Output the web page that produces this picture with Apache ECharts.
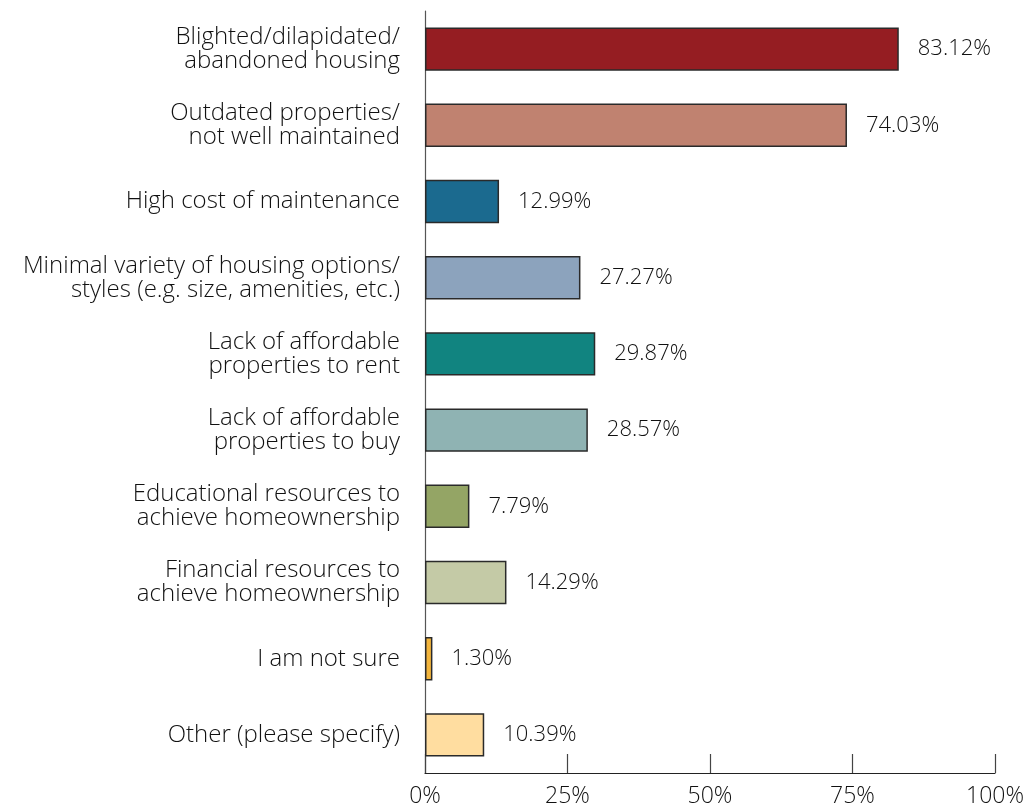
<!DOCTYPE html>
<html>
<head>
<meta charset="utf-8">
<script src="https://cdn.jsdelivr.net/npm/echarts@6/dist/echarts.min.js"></script>
<style>
  html, body { margin: 0; padding: 0; background: #fff; }
  #chart { width: 1031px; height: 810px; }
</style>
</head>
<body>
<div id="chart"></div>
<script>
// Survey responses: housing challenges (share of respondents, %)
const categories = [
  'Blighted/dilapidated/\nabandoned housing',
  'Outdated properties/\nnot well maintained',
  'High cost of maintenance',
  'Minimal variety of housing options/\nstyles (e.g. size, amenities, etc.)',
  'Lack of affordable\nproperties to rent',
  'Lack of affordable\nproperties to buy',
  'Educational resources to\nachieve homeownership',
  'Financial resources to\nachieve homeownership',
  'I am not sure',
  'Other (please specify)'
];
const values = [83.12, 74.03, 12.99, 27.27, 29.87, 28.57, 7.79, 14.29, 1.30, 10.39];
const barColors = ['#951d22', '#c08270', '#1b6a8f', '#8ca3bd', '#118480',
                   '#8fb3b3', '#94a565', '#c4caa6', '#f3b53c', '#ffdda0'];
const xTicks = [0, 25, 50, 75, 100];

const FONT = '"Open Sans", "Noto Sans", sans-serif';
const chart = echarts.init(document.getElementById('chart'));

chart.setOption({
  animation: false,
  backgroundColor: '#fff',
  grid: { left: 425, right: 36, top: 11, bottom: 37, containLabel: false },
  xAxis: {
    type: 'value',
    min: xTicks[0],
    max: xTicks[xTicks.length - 1],
    interval: 25,
    splitLine: { show: false },
    axisLine: { show: true, lineStyle: { color: '#222', width: 1.2 } },
    axisTick: { show: true, inside: true, length: 19, lineStyle: { color: '#444', width: 1.2 } },
    axisLabel: {
      formatter: v => v + '%',
      color: '#111', fontSize: 23, fontFamily: FONT, fontWeight: 300, margin: 12
    }
  },
  yAxis: {
    type: 'category',
    data: categories,
    inverse: true,
    axisLine: { show: true, lineStyle: { color: '#555', width: 1.2 } },
    axisTick: { show: false },
    axisLabel: {
      color: '#111', fontSize: 24, fontFamily: FONT, fontWeight: 300, lineHeight: 24,
      align: 'right', margin: 25, padding: [4, 0, 0, 0]
    }
  },
  series: [{
    type: 'bar',
    data: values.map((v, i) => ({ value: v, itemStyle: { color: barColors[i] } })),
    barCategoryGap: '43%',
    itemStyle: { borderColor: '#2a2a2a', borderWidth: 1.5 },
    label: {
      show: true, position: 'right', distance: 19,
      formatter: p => p.value.toFixed(2) + '%',
      color: '#111', fontSize: 22, fontFamily: FONT, fontWeight: 300
    }
  }]
});
</script>
</body>
</html>
